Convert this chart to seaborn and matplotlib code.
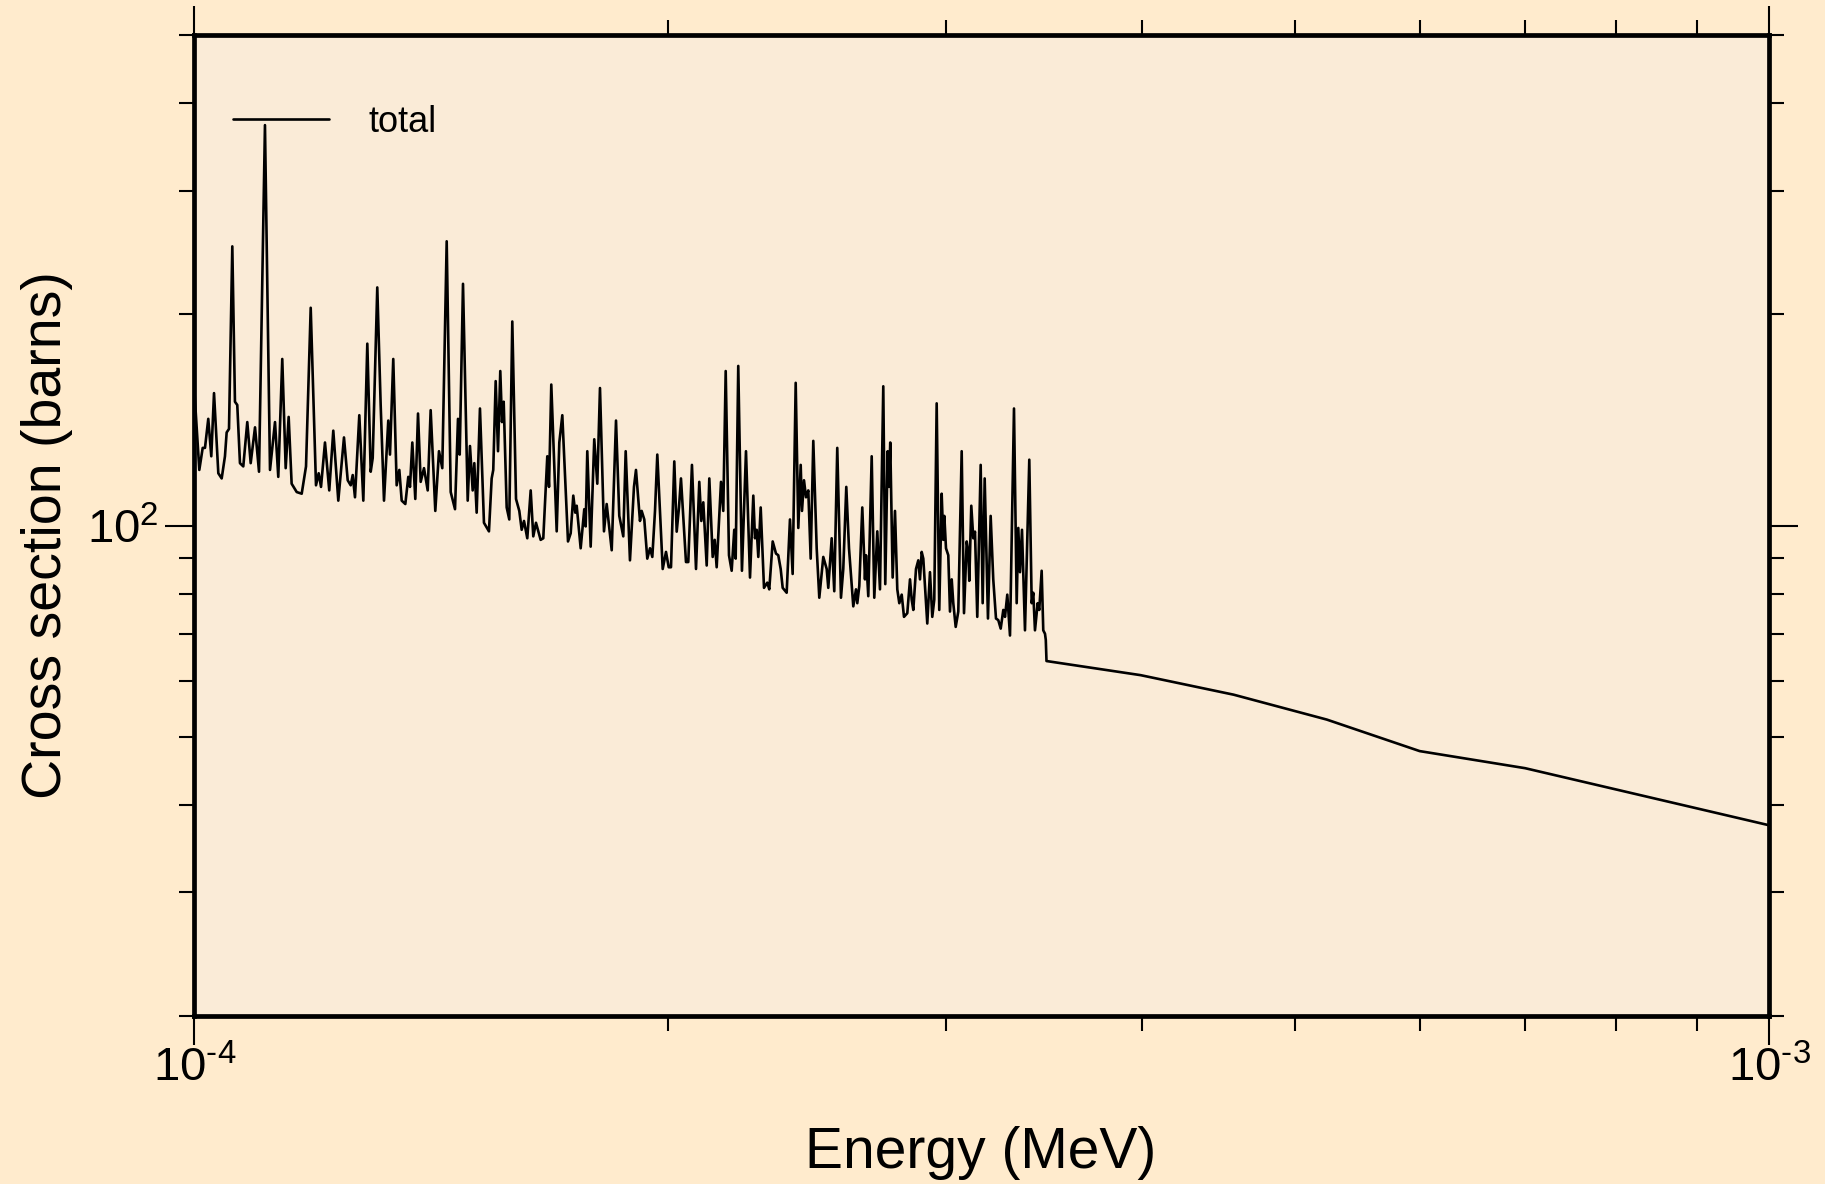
import numpy as np
import pandas as pd
import matplotlib
matplotlib.use("Agg")
import matplotlib.pyplot as plt
import seaborn as sns
from matplotlib.ticker import LogLocator, NullFormatter, FuncFormatter

# ---------------- data ----------------
# resolved-resonance region: energy in eV, total cross section in barns
energy_res_ev = [
    100.00, 100.72, 101.22, 101.56, 102.05, 102.50, 102.91, 103.56, 104.07, 104.57,
    104.83, 105.19, 105.70, 106.11, 106.47, 106.89, 107.41, 108.04, 108.58, 109.27,
    109.91, 110.87, 111.69, 112.51, 113.05, 113.71, 114.28, 114.78, 115.28, 116.14,
    116.99, 117.73, 118.54, 119.46, 119.93, 120.34, 121.04, 121.80, 122.52, 123.42,
    124.45, 125.13, 125.68, 126.05, 126.47, 127.27, 128.02, 128.77, 129.41, 129.79,
    130.66, 131.31, 131.95, 132.78, 133.11, 133.75, 134.42, 134.94, 135.41, 136.13,
    136.72, 137.06, 137.53, 138.13, 138.68, 139.22, 139.90, 140.66, 141.27, 142.23,
    143.00, 143.69, 144.62, 145.47, 146.39, 147.03, 147.40, 148.11, 149.13, 149.63,
    150.22, 150.58, 151.10, 151.83, 152.72, 153.84, 154.45, 154.81, 155.36, 155.89,
    156.41, 156.80, 157.19, 157.88, 158.48, 159.18, 160.05, 160.82, 161.38, 161.93,
    162.71, 163.52, 164.14, 164.79, 165.92, 166.56, 167.54, 167.96, 168.52, 169.86,
    170.51, 171.26, 172.69, 173.37, 174.03, 174.54, 174.90, 175.92, 176.85, 177.21,
    177.63, 178.51, 179.45, 180.25, 180.96, 182.02, 182.74, 184.09, 185.25, 186.14,
    187.23, 187.89, 189.07, 190.18, 190.74, 191.86, 192.33, 193.07, 193.92, 194.69,
    195.35, 196.12, 196.78, 198.34, 199.30, 200.09, 200.76, 201.73, 202.44, 203.12,
    203.71, 205.21, 205.90, 207.01, 208.24, 209.24, 209.86, 210.47, 211.52, 212.33,
    213.38, 214.01, 214.63, 215.99, 216.71, 217.48, 218.53, 219.39, 220.22, 220.68,
    221.51, 222.71, 224.03, 225.35, 226.44, 227.00, 227.57, 228.10, 228.90, 230.01,
    231.12, 231.79, 232.95, 234.08, 234.86, 235.69, 236.38, 237.76, 238.91, 239.85,
    240.92, 241.84, 242.69, 243.15, 243.86, 244.58, 245.40, 246.26, 247.20, 248.43,
    249.38, 250.84, 252.09, 252.68, 253.94, 254.90, 256.02, 257.41, 258.28, 259.42,
    260.45, 262.09, 263.13, 263.63, 264.40, 265.56, 266.61, 267.01, 267.90, 269.24,
    270.26, 271.45, 272.52, 273.84, 274.64, 275.60, 276.13, 276.65, 277.62, 278.57,
    279.51, 280.33, 281.32, 282.26, 283.63, 284.75, 285.46, 286.13, 287.26, 288.23,
    288.94, 289.66, 290.34, 292.04, 293.19, 294.18, 295.04, 296.08, 297.20, 298.25,
    298.95, 299.41, 300.14, 301.15, 301.90, 302.66, 303.36, 304.43, 305.59, 307.11,
    308.15, 309.37, 310.09, 310.54, 311.45, 312.36, 313.14, 314.19, 315.76, 316.68,
    317.61, 319.14, 320.40, 321.62, 322.91, 324.00, 325.14, 326.38, 327.19, 328.29,
    329.59, 331.52, 332.83, 333.61, 334.44, 335.42, 336.89, 339.02, 340.21, 341.00,
    341.85, 343.20, 344.00, 345.21, 346.02, 346.90, 347.30, 347.66,
]
xs_res_barns = [
    155.5, 120.0, 129.0, 129.0, 141.9, 125.5, 154.4, 118.7, 116.7, 125.5,
    135.7, 137.3, 249.9, 150.1, 148.5, 122.7, 121.4, 140.4, 122.7, 138.0,
    119.3, 372.0, 120.0, 140.4, 117.3, 172.7, 120.7, 142.8, 114.7, 111.6,
    111.0, 121.4, 204.3, 114.1, 118.7, 113.5, 131.3, 112.2, 136.5, 108.5,
    133.5, 116.0, 114.1, 118.0, 109.7, 143.6, 108.5, 181.6, 119.3, 124.8,
    218.4, 148.5, 108.5, 141.1, 126.2, 172.7, 114.1, 120.0, 108.5, 107.3,
    117.3, 113.5, 131.3, 109.1, 144.4, 115.4, 120.7, 112.2, 146.0, 104.9,
    127.6, 120.7, 254.1, 111.6, 105.5, 141.9, 126.2, 221.0, 108.5, 129.8,
    112.2, 122.7, 104.3, 146.8, 100.9, 98.1, 116.7, 120.0, 160.6, 127.6,
    166.0, 140.4, 150.1, 106.1, 102.0, 195.3, 109.1, 104.9, 98.6, 101.5,
    95.9, 112.2, 96.5, 100.9, 95.4, 95.9, 125.5, 113.5, 158.8, 98.1,
    131.3, 143.6, 94.9, 97.5, 110.3, 104.3, 106.7, 92.8, 105.5, 99.7,
    127.6, 93.3, 132.7, 114.7, 157.0, 98.1, 107.3, 92.2, 141.1, 103.2,
    96.5, 127.6, 89.2, 113.5, 120.0, 101.5, 104.9, 102.0, 89.7, 92.8,
    90.2, 104.9, 126.2, 86.7, 91.7, 87.2, 87.2, 123.4, 98.0, 106.1,
    116.7, 88.7, 88.7, 122.0, 86.7, 115.4, 101.5, 107.9, 87.7, 116.7,
    90.2, 95.4, 87.2, 115.4, 104.9, 166.0, 90.7, 86.2, 98.6, 89.7,
    168.8, 86.2, 127.6, 84.3, 110.3, 95.9, 98.6, 90.2, 106.1, 81.5,
    82.9, 81.1, 94.9, 91.2, 90.7, 86.7, 81.5, 80.2, 102.0, 85.3,
    159.7, 99.2, 122.0, 104.9, 116.0, 109.7, 112.2, 89.7, 132.0, 92.8,
    78.9, 90.2, 86.7, 81.5, 95.9, 80.6, 129.0, 78.9, 86.7, 113.5,
    92.8, 76.7, 81.1, 77.5, 82.0, 106.1, 83.8, 90.7, 79.3, 125.5,
    78.9, 98.1, 81.1, 157.9, 82.5, 127.6, 113.5, 131.3, 84.3, 104.9,
    81.1, 77.5, 79.7, 74.1, 75.0, 83.8, 78.4, 75.8, 86.7, 89.2,
    83.8, 91.7, 89.7, 72.5, 85.8, 74.1, 78.4, 149.3, 75.8, 111.0,
    95.4, 103.2, 92.8, 90.7, 75.4, 83.8, 77.5, 71.7, 75.4, 127.6,
    75.0, 94.9, 91.7, 83.4, 106.7, 95.9, 98.0, 74.1, 122.0, 77.5,
    116.7, 73.7, 103.2, 83.8, 73.7, 73.3, 71.3, 75.8, 74.1, 79.7,
    69.7, 146.8, 77.5, 99.2, 85.8, 98.6, 70.9, 124.1, 77.5, 80.2,
    70.9, 77.5, 75.8, 86.2, 70.9, 70.1, 68.7, 64.1,
]
# smooth (unresolved) region
energy_smooth_ev = [398.93, 457.10, 523.76, 600.0, 700.0, 1000.0]
xs_smooth_barns = [61.2, 57.4, 52.9, 47.7, 45.1, 37.4]

series_label = "total"
x_label = "Energy (MeV)"
y_label = "Cross section (barns)"

# ---------------- style ----------------
sns.set_theme(style="ticks")
plt.rcParams["font.family"] = ["Liberation Sans", "DejaVu Sans"]
plt.rcParams["mathtext.fontset"] = "custom"
plt.rcParams["mathtext.rm"] = "Liberation Sans"
plt.rcParams["mathtext.it"] = "Liberation Sans:italic"
plt.rcParams["mathtext.bf"] = "Liberation Sans:bold"
plt.rcParams["mathtext.sf"] = "Liberation Sans"

fig_bg = "#FFEBCD"
ax_bg = "#FAEBD7"

fig = plt.figure(figsize=(18.25, 11.84), dpi=100, facecolor=fig_bg)
ax = fig.add_axes([0.10652, 0.14189, 0.86279, 0.82855])
ax.set_facecolor(ax_bg)

df = pd.DataFrame({
    "energy": np.concatenate([energy_res_ev, energy_smooth_ev]) * 1e-6,
    "xs": np.concatenate([xs_res_barns, xs_smooth_barns]),
})

sns.lineplot(data=df, x="energy", y="xs", ax=ax, color="black", linewidth=1.9,
             label=series_label, estimator=None, sort=False)

ax.set_xscale("log")
ax.set_yscale("log")
ax.set_xlim(1e-4, 1e-3)
ax.set_ylim(20, 500)


def pow10_label(v, pos):
    e = int(round(np.log10(v)))
    if e < 0:
        return r"$\mathdefault{10^{\text{-}%d}}$" % (-e)
    return r"$\mathdefault{10^{%d}}$" % e


ax.xaxis.set_major_locator(LogLocator(base=10, numticks=10))
ax.xaxis.set_minor_locator(LogLocator(base=10, subs=np.arange(2, 10), numticks=20))
ax.yaxis.set_major_locator(LogLocator(base=10, numticks=10))
ax.yaxis.set_minor_locator(LogLocator(base=10, subs=np.arange(2, 10), numticks=20))
ax.xaxis.set_major_formatter(FuncFormatter(pow10_label))
ax.yaxis.set_major_formatter(FuncFormatter(pow10_label))
ax.xaxis.set_minor_formatter(NullFormatter())
ax.yaxis.set_minor_formatter(NullFormatter())

for s in ax.spines.values():
    s.set_visible(True)
    s.set_linewidth(3.4)
    s.set_color("black")

ax.tick_params(which="both", direction="out", top=True, right=True,
               labeltop=False, labelright=False, color="black", width=1.5,
               labelsize=34, labelcolor="black")
ax.tick_params(which="major", length=21)
ax.tick_params(which="minor", length=10.5)
ax.tick_params(axis="x", which="major", pad=1)
ax.tick_params(axis="y", which="major", pad=4.5)

ax.set_xlabel(x_label, fontsize=41, color="black")
ax.set_ylabel(y_label, fontsize=40, color="black")
ax.xaxis.label.set_va("baseline")
ax.xaxis.set_label_coords(0.4996, -0.1546)
ax.yaxis.label.set_va("baseline")
ax.yaxis.set_label_coords(-0.085, 0.49)

leg = ax.legend(loc="center left", bbox_to_anchor=(0.0245, 0.9113), frameon=False,
                fontsize=26, handlelength=2.66, handletextpad=1.1, borderpad=0,
                borderaxespad=0)
for t in leg.get_texts():
    t.set_color("black")

fig.savefig("out.png", dpi=100, facecolor=fig.get_facecolor())
